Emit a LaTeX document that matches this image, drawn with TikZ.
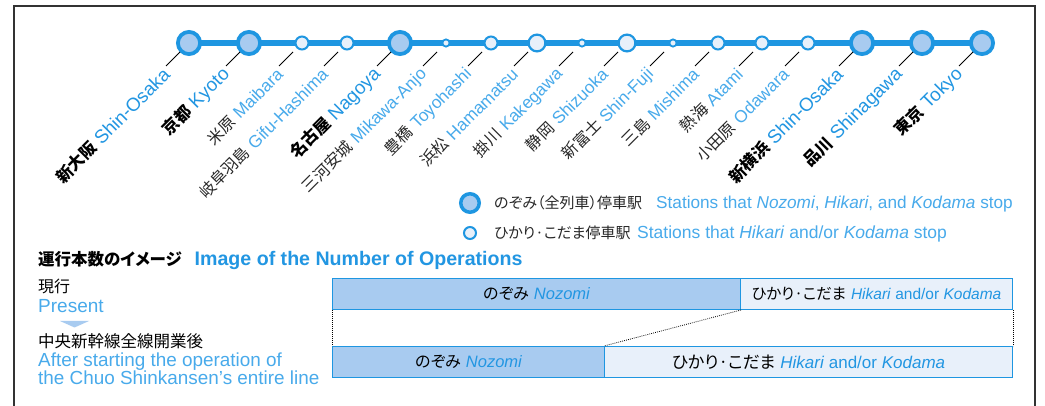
\documentclass[tikz,border=0pt]{standalone}
\usepackage{fontspec}
\setmainfont{Liberation Sans}
\newfontfamily\jpf[RawFeature=+palt]{Noto Sans CJK JP}
\usetikzlibrary{backgrounds}
\definecolor{lineblue}{RGB}{30,150,225}
\definecolor{txtblue}{RGB}{34,150,226}
\definecolor{ltblue}{RGB}{72,170,235}
\definecolor{bigfill}{RGB}{168,203,240}
\definecolor{smfill}{RGB}{232,240,250}
\definecolor{jpgray}{RGB}{40,40,40}
\definecolor{framegray}{RGB}{50,50,50}
\newcommand{\BigLab}[2]{{\jpf\bfseries\fontsize{16.5}{16.5}\selectfont #1}\hspace{5pt}{\color{txtblue}\fontsize{18.8}{18.8}\selectfont #2}}
\newcommand{\SmLab}[2]{{\color{jpgray}\jpf\fontsize{16}{16}\selectfont #1}\hspace{5pt}{\color{ltblue}\fontsize{17.2}{17.2}\selectfont #2}}
\newcommand{\NozText}{{\jpf\fontsize{16}{16}\selectfont のぞみ}\hspace{5pt}{\color{txtblue}\itshape\fontsize{16.5}{16.5}\selectfont Nozomi}}
\newcommand{\HikText}[1]{\fontsize{#1}{#1}\selectfont{\jpf ひかり·こだま}\hspace{5pt}{\color{txtblue}\textit{Hikari} and/or \textit{Kodama}}}
\begin{document}
\begin{tikzpicture}[x=1pt,y=-1pt,
  station/.style={circle,draw=lineblue,inner sep=0pt,outer sep=0pt},
  leader/.style={line width=1pt,black},
  stlabel/.style={rotate=45,anchor=east,inner sep=0pt},
  mainline/.style={lineblue,line width=6pt},
  frame/.style={framegray,line width=1.5pt},
  bar/.style={draw=lineblue,line width=1pt,minimum height=31pt,inner sep=0pt,anchor=north west},
  nozbar/.style={bar,fill=bigfill},
  hikbar/.style={bar,fill=smfill},
  conn/.style={black,line width=0.8pt,dash pattern=on 0.8pt off 1.2pt},
  txt/.style={inner sep=0pt,anchor=base west}]
\useasboundingbox (0,0) rectangle (1045,406);

% stations
\foreach \i/\x/\d/\w/\c in {1/189/22.2/3.8/bigfill, 2/249/22.2/3.8/bigfill, 3/302/13/2/smfill, 4/347/13/2/smfill, 5/400/22.2/3.8/bigfill, 6/446/7.2/1.8/smfill, 7/491/13/2/smfill, 8/537/16.8/2.2/smfill, 9/582/7.2/1.8/smfill, 10/627/16.8/2.2/smfill, 11/673/7.2/1.8/smfill, 12/718/13/2/smfill, 13/762/13/2/smfill, 14/808/13/2/smfill, 15/862/22.2/3.8/bigfill, 16/922/22.2/3.8/bigfill, 17/982/22.2/3.8/bigfill}
{
  \node[station,minimum size=\d pt,line width=\w pt,fill=\c] (s\i) at (\x,43) {};
}

\begin{scope}[on background layer]
  \fill[white] (0,0) rectangle (1045,406);
  \draw[mainline] (s1.center) -- (s17.center);
\end{scope}

% labels
\foreach \i/\x/\k/\j/\e in {1/189/1/新大阪/Shin-Osaka, 2/249/1/京都/Kyoto, 3/302/0/米原/Maibara, 4/347/0/岐阜羽島/Gifu-Hashima, 5/400/1/名古屋/Nagoya, 6/446/0/三河安城/Mikawa-Anjo, 7/491/0/豊橋/Toyohashi, 8/537/0/浜松/Hamamatsu, 9/582/0/掛川/Kakegawa, 10/627/0/静岡/Shizuoka, 11/673/0/新富士/Shin-Fuji, 12/718/0/三島/Mishima, 13/762/0/熱海/Atami, 14/808/0/小田原/Odawara, 15/862/1/新横浜/Shin-Osaka, 16/922/1/品川/Shinagawa, 17/982/1/東京/Tokyo}
{
  \coordinate (a\i) at ({\x-9},52);
  \coordinate (b\i) at ({\x-23},66);
  \draw[leader] (a\i) -- (b\i);
  \node[stlabel] (n\i) at ({\x-22},71.5) {\ifnum\k=1 \BigLab{\j}{\e}\else\SmLab{\j}{\e}\fi};
}

% frame
\draw[frame] (14,412) -- (14,6) -- (1035,6) -- (1035,412);

% legend
\node[station,minimum size=18.5pt,line width=3.5pt,fill=bigfill] (lg1) at (470,203) {};
\node[station,minimum size=12pt,line width=2pt,fill=smfill] (lg2) at (470,233) {};
\node[txt] (lj1) at (494,209) {\color{jpgray}\jpf\fontsize{15}{15}\selectfont のぞみ（全列車）停車駅};
\node[txt] (le1) at (656,209) {\color{ltblue}\fontsize{17.2}{17.2}\selectfont Stations that \textit{Nozomi}, \textit{Hikari}, and \textit{Kodama} stop};
\node[txt] (lj2) at (494,239) {\color{jpgray}\jpf\fontsize{15}{15}\selectfont ひかり·こだま停車駅};
\node[txt] (le2) at (637,239) {\color{ltblue}\fontsize{17.5}{17.5}\selectfont Stations that \textit{Hikari} and/or \textit{Kodama} stop};

% heading
\node[txt] (hd) at (38,266) {{\jpf\bfseries\fontsize{16.5}{16.5}\selectfont 運行本数のイメージ}\hspace{13pt}{\bfseries\color{txtblue}\fontsize{19.6}{19.6}\selectfont Image of the Number of Operations}};

% left texts
\node[txt] (pj) at (38,293) {\jpf\fontsize{16}{16}\selectfont 現行};
\node[txt] (pe) at (38,312.5) {\color{ltblue}\fontsize{19}{19}\selectfont Present};
\fill[bigfill] (60,321) -- (89,321) -- (74.5,327.5) -- cycle;
\node[txt] (fj) at (38,347) {\jpf\fontsize{16.5}{16.5}\selectfont 中央新幹線全線開業後};
\node[txt] (fe1) at (38,366.5) {\color{ltblue}\fontsize{18.9}{18.9}\selectfont After starting the operation of};
\node[txt] (fe2) at (38,384) {\color{ltblue}\fontsize{18.9}{18.9}\selectfont the Chuo Shinkansen's entire line};

% bars
\node[nozbar,minimum width=408pt] (tn) at (332,278) {\NozText};
\node[hikbar,minimum width=272pt] (th) at (740,278) {\HikText{15.5}};
\node[nozbar,minimum width=272pt] (bn) at (332,346) {\NozText};
\node[hikbar,minimum width=408pt] (bh) at (604,346) {\HikText{17}};

\draw[conn] (tn.south west) -- (bn.north west);
\draw[conn] (tn.south east) -- (bh.north west);
\draw[conn] (th.south east) -- (bh.north east);
\end{tikzpicture}
\end{document}
